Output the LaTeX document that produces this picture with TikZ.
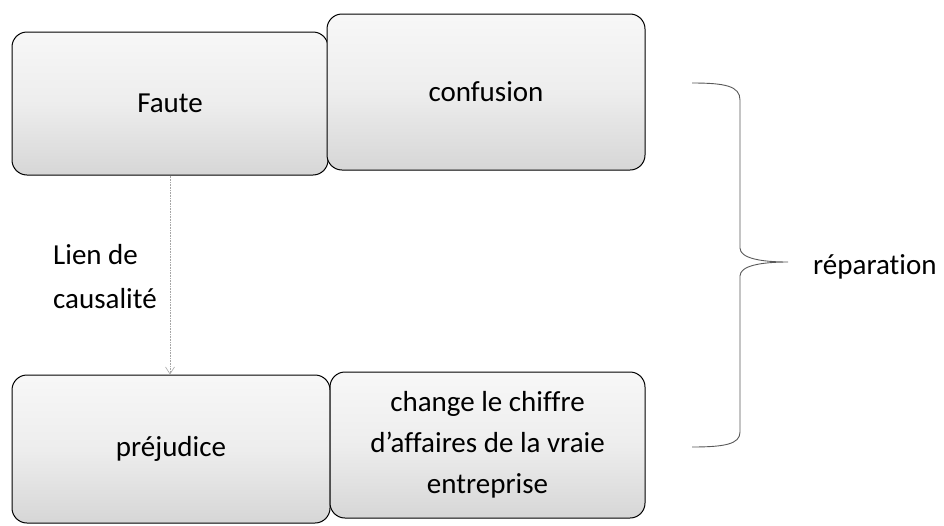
\documentclass[tikz,border=0pt]{standalone}
\usepackage{fontspec}
\setmainfont{Carlito}[Ligatures=NoCommon]
\usetikzlibrary{arrows.meta}
\begin{document}
\begin{tikzpicture}[x=1pt,y=-1pt,
  box/.style={draw=black, line width=1pt, rounded corners=15pt,
    top color=gray!6, bottom color=gray!32, middle color=gray!14,
    inner sep=0pt, align=center,
    font=\fontsize{29}{41}\selectfont},
  label/.style={inner sep=0pt, font=\fontsize{29}{44}\selectfont},
  causal/.style={draw=gray!70, line width=0.6pt, densely dotted,
    -{Straight Barb[length=7pt,width=9pt,line width=0.6pt]}},
  brace/.style={draw=black!65, line width=0.9pt}]
  \useasboundingbox (0,0) rectangle (944,525);

  % top row
  \node[box, minimum width=316pt, minimum height=143pt] (faute) at (170,103.5) {Faute};
  \node[box, minimum width=318pt, minimum height=156pt] (conf) at (486,92) {confusion};

  % bottom row
  \node[box, minimum width=318pt, minimum height=148pt] (prej) at (171,449) {préjudice};
  \node[box, minimum width=315pt, minimum height=146pt] (chiffre) at (487.5,445)
    {change le chiffre\\d’affaires de la vraie\\entreprise};

  % causal link
  \draw[causal] (faute.south -| 170,0) -- (prej.north -| 170,0);
  \node[label, anchor=north west, align=left] (lien) at (53,244) {Lien de\\causalité};

  % brace gathering both rows
  \coordinate (btop) at (692,83);
  \coordinate (btip) at (788,262);
  \coordinate (bbot) at (692,447);
  \draw[brace] (btop) .. controls (725,83) and (740,86) .. (740,100)
    -- (740,248) .. controls (740,258) and (760,262) .. (btip)
    .. controls (760,262) and (740,266) .. (740,276)
    -- (740,432) .. controls (740,444) and (725,447) .. (bbot);
  \node[label, anchor=base west] (rep) at (813,274) {réparation};
\end{tikzpicture}
\end{document}
